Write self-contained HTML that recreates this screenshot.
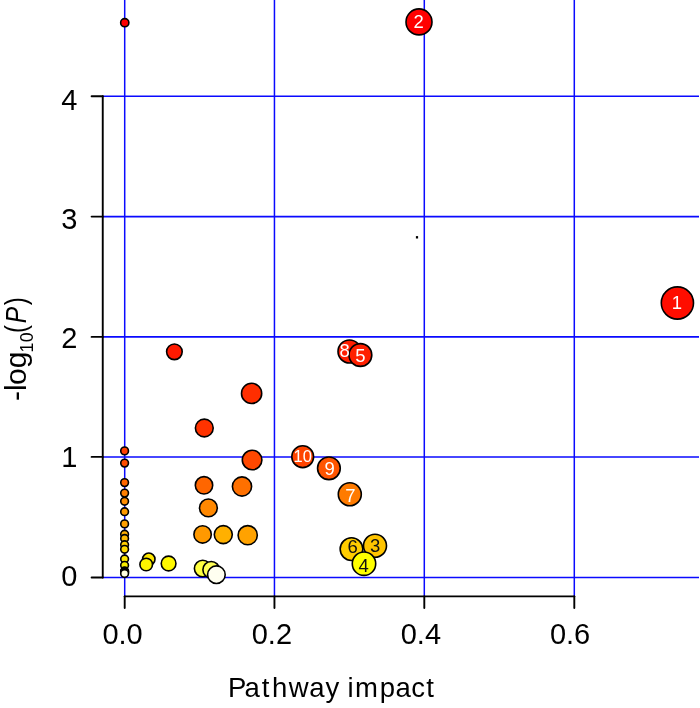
<!DOCTYPE html>
<html lang="en"><head><meta charset="utf-8"><title>Pathway impact</title>
<style>html,body{margin:0;padding:0;background:#fff}body{width:700px;height:708px;overflow:hidden}svg{display:block}text{font-family:"Liberation Sans",sans-serif}</style></head><body>
<svg width="700" height="708" viewBox="0 0 700 708">
<rect width="700" height="708" fill="#fff"/>
<g stroke="#0a0aff" fill="none">
<line x1="124.7" y1="0" x2="124.7" y2="596.35" stroke-width="1.5"/>
<line x1="274.45" y1="0" x2="274.45" y2="596.35" stroke-width="1.5"/>
<line x1="424.3" y1="0" x2="424.3" y2="596.35" stroke-width="1.5"/>
<line x1="574.3" y1="0" x2="574.3" y2="596.35" stroke-width="1.5"/>
<line x1="102.75" y1="96.3" x2="699" y2="96.3" stroke-width="1.4"/>
<line x1="102.75" y1="216.6" x2="699" y2="216.6" stroke-width="1.8"/>
<line x1="102.75" y1="336.9" x2="699" y2="336.9" stroke-width="1.9"/>
<line x1="102.75" y1="456.9" x2="699" y2="456.9" stroke-width="1.5"/>
<line x1="102.75" y1="577.5" x2="699" y2="577.5" stroke-width="1.7"/>
</g>
<g stroke="#000" stroke-width="1.9" fill="none" stroke-linecap="round">
<line x1="102.75" y1="96.3" x2="102.75" y2="577.5"/>
<line x1="91.6" y1="96.3" x2="102.75" y2="96.3"/>
<line x1="91.6" y1="216.6" x2="102.75" y2="216.6"/>
<line x1="91.6" y1="336.9" x2="102.75" y2="336.9"/>
<line x1="91.6" y1="456.9" x2="102.75" y2="456.9"/>
<line x1="91.6" y1="577.5" x2="102.75" y2="577.5"/>
<line x1="124.7" y1="596.35" x2="574.3" y2="596.35"/>
<line x1="124.7" y1="596.35" x2="124.7" y2="608.1"/>
<line x1="274.45" y1="596.35" x2="274.45" y2="608.1"/>
<line x1="424.3" y1="596.35" x2="424.3" y2="608.1"/>
<line x1="574.3" y1="596.35" x2="574.3" y2="608.1"/>
</g>
<rect x="415.9" y="236.1" width="2.2" height="2.4" fill="#000"/>
<g stroke="#000" stroke-width="1.6">
<circle cx="124.75" cy="22.7" r="4.10" fill="#FF0000"/>
<circle cx="124.6" cy="450.9" r="3.85" fill="#FF4000"/>
<circle cx="124.6" cy="463.1" r="3.85" fill="#FF4D00"/>
<circle cx="124.6" cy="482.6" r="3.85" fill="#FF6600"/>
<circle cx="124.6" cy="493.1" r="3.85" fill="#FF7F00"/>
<circle cx="124.6" cy="501.3" r="3.85" fill="#FF8C00"/>
<circle cx="124.6" cy="511.7" r="3.85" fill="#FF9900"/>
<circle cx="124.6" cy="523.9" r="3.85" fill="#FFA000"/>
<circle cx="124.6" cy="534.2" r="3.85" fill="#FFB000"/>
<circle cx="124.6" cy="538.5" r="3.85" fill="#FFBB00"/>
<circle cx="124.6" cy="544.7" r="3.85" fill="#FFCC00"/>
<circle cx="124.6" cy="549.3" r="3.85" fill="#FFD800"/>
<circle cx="124.6" cy="559.0" r="3.85" fill="#FFE800"/>
<circle cx="124.6" cy="565.3" r="3.85" fill="#F8EC00"/>
<circle cx="124.6" cy="571.0" r="3.85" fill="#FFFF20"/>
<circle cx="124.6" cy="571.8" r="3.85" fill="#FFFF40"/>
<circle cx="124.6" cy="572.6" r="3.85" fill="#FFFF80"/>
<circle cx="124.6" cy="573.5" r="3.85" fill="#FFFFE0"/>
<circle cx="419.0" cy="21.9" r="13.00" fill="#FF0000"/>
<circle cx="677.4" cy="303.0" r="16.10" fill="#FF0D00"/>
<circle cx="174.4" cy="351.8" r="7.80" fill="#FF1A00"/>
<circle cx="349.5" cy="351.5" r="11.50" fill="#FF1E00"/>
<circle cx="360.4" cy="355.0" r="11.40" fill="#FF2000"/>
<circle cx="251.6" cy="393.4" r="10.10" fill="#FF2E00"/>
<circle cx="204.3" cy="428.0" r="8.90" fill="#FF3300"/>
<circle cx="302.7" cy="456.7" r="10.90" fill="#FF4400"/>
<circle cx="252.1" cy="460.0" r="9.80" fill="#FF4800"/>
<circle cx="328.9" cy="468.3" r="11.35" fill="#FF5500"/>
<circle cx="204.0" cy="485.3" r="8.70" fill="#FF6600"/>
<circle cx="242.0" cy="486.5" r="9.60" fill="#FF7000"/>
<circle cx="349.8" cy="494.2" r="11.50" fill="#FF7B00"/>
<circle cx="208.4" cy="507.9" r="8.90" fill="#FF8800"/>
<circle cx="202.6" cy="534.4" r="8.70" fill="#FF9900"/>
<circle cx="223.3" cy="534.6" r="9.00" fill="#FFB000"/>
<circle cx="247.7" cy="535.2" r="9.60" fill="#FFA200"/>
<circle cx="375.0" cy="545.7" r="11.50" fill="#FFC400"/>
<circle cx="351.5" cy="549.1" r="11.35" fill="#FFCC00"/>
<circle cx="148.8" cy="559.2" r="6.20" fill="#FFE800"/>
<circle cx="168.6" cy="563.5" r="7.35" fill="#FFF800"/>
<circle cx="364.0" cy="563.7" r="11.70" fill="#FFFF00"/>
<circle cx="146.2" cy="564.5" r="6.30" fill="#FFF400"/>
<circle cx="202.7" cy="568.5" r="8.30" fill="#FFFF40"/>
<circle cx="211.2" cy="569.8" r="8.30" fill="#FFFF55"/>
<circle cx="216.4" cy="574.7" r="8.80" fill="#FFFFF0"/>
</g>
<g font-size="18.5" text-anchor="middle">
<text x="677.0" y="309.3" font-size="18.5" fill="#fff">1</text>
<text x="418.6" y="28.2" font-size="18.5" fill="#fff">2</text>
<text x="375.1" y="552.1" font-size="18.5" fill="#111">3</text>
<text x="363.6" y="572.3" font-size="18.5" fill="#111">4</text>
<text x="360.5" y="361.6" font-size="18.5" fill="#fff">5</text>
<text x="352.6" y="552.8" font-size="18.5" fill="#111">6</text>
<text x="350.3" y="501.7" font-size="18.5" fill="#fff">7</text>
<text x="344.6" y="356.9" font-size="18.5" fill="#fff">8</text>
<text x="329.7" y="474.6" font-size="18.5" fill="#fff">9</text>
<text x="302.7" y="462.0" font-size="16.5" fill="#fff">10</text>
</g>
<g font-size="29" fill="#000">
<text x="69.4" y="109.5" text-anchor="middle">4</text>
<text x="69.4" y="229.2" text-anchor="middle">3</text>
<text x="69.4" y="347.8" text-anchor="middle">2</text>
<text x="69.4" y="467.2" text-anchor="middle">1</text>
<text x="69.4" y="586.4" text-anchor="middle">0</text>
<text x="122.6" y="644.3" text-anchor="middle">0.0</text>
<text x="271.9" y="644.3" text-anchor="middle">0.2</text>
<text x="420.9" y="644.3" text-anchor="middle">0.4</text>
<text x="570.1" y="644.3" text-anchor="middle">0.6</text>
</g>
<text x="228.1 244.6 261.7 271.9 288.7 309.3 325.5 339.3 347.4 354.9 379.7 395.6 411.2 426.3" y="697" font-size="27.5" fill="#000">Pathway impact</text>
<g transform="translate(26.4,400) rotate(-90)" fill="#000">
<text><tspan x="-1.10" y="0" font-size="30">-</tspan><tspan x="9.12" y="0" font-size="30">l</tspan><tspan x="15.06" y="0" font-size="30">o</tspan><tspan x="31.89" y="0" font-size="30">g</tspan><tspan x="47.49" y="6.5" font-size="17.7">1</tspan><tspan x="57.73" y="6.5" font-size="17.7">0</tspan><tspan x="67.03" y="0" font-size="30" textLength="7.99" lengthAdjust="spacingAndGlyphs">(</tspan><tspan x="76.77" y="0" font-size="29" font-style="italic" textLength="16.44" lengthAdjust="spacingAndGlyphs">P</tspan><tspan x="94.83" y="0" font-size="30" textLength="7.99" lengthAdjust="spacingAndGlyphs">)</tspan></text>
</g>
</svg></body></html>
